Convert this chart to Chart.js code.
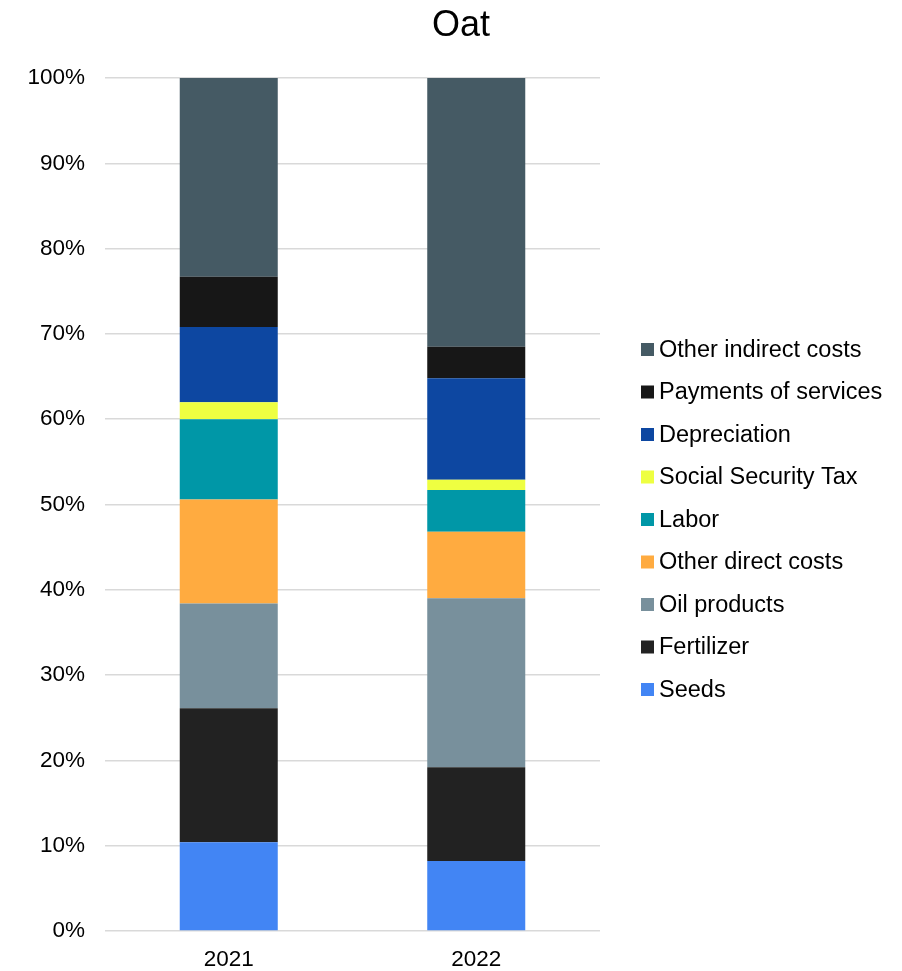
<!DOCTYPE html>
<html>
<head>
<meta charset="utf-8">
<title>Oat</title>
<script src="https://cdn.jsdelivr.net/npm/chart.js@4.4.1/dist/chart.umd.min.js"></script>
<style>
    html, body { margin: 0; padding: 0; background: #ffffff; }
    #wrap { width: 902px; height: 971px; }
</style>
</head>
<body>
<div id="wrap"><canvas id="oatChart" width="902" height="971"></canvas></div>
<script>
// Cost structure of oat per year, share of total (%)
const years = ['2021', '2022'];
const costNames = [
    'Seeds', 'Fertilizer', 'Oil products', 'Other direct costs', 'Labor',
    'Social Security Tax', 'Depreciation', 'Payments of services', 'Other indirect costs'
];
const seeds = [10.4, 8.2];
const fertilizer = [15.7, 11.0];
const oilProducts = [12.3, 19.8];
const otherDirect = [12.2, 7.8];
const labor = [9.4, 4.9];
const socialTax = [2.0, 1.2];
const depreciation = [8.8, 11.9];
const payments = [5.9, 3.7];
const otherIndirect = [23.3, 31.5];
const percentTicks = [0, 10, 20, 30, 40, 50, 60, 70, 80, 90, 100];

const costValues = [seeds, fertilizer, oilProducts, otherDirect, labor, socialTax, depreciation, payments, otherIndirect];
const costColors = ['#4285f4', '#222222', '#78909c', '#ffab40', '#0097a7', '#eeff41', '#0d47a1', '#171717', '#455a64'];

const FONT = '"Liberation Sans", Arial, sans-serif';
const LEFT_PAD = 20;

const datasets = costValues.map((values, i) => ({
    label: costNames[i],
    data: values,
    backgroundColor: costColors[i],
    borderWidth: 0,
    barPercentage: 0.396,
    categoryPercentage: 1.0
}));

// title centred over the whole canvas (the built-in one only spans the plot + axis)
const canvasTitle = {
    id: 'canvasTitle',
    afterDraw(chart) {
        const { ctx } = chart;
        ctx.save();
        ctx.font = '36px ' + FONT;
        ctx.fillStyle = '#000000';
        ctx.textAlign = 'center';
        ctx.textBaseline = 'middle';
        ctx.fillText('Oat', (chart.width + LEFT_PAD) / 2, 26);
        ctx.restore();
    }
};

// legend on the right, top item = top of the stack
const sideLegend = {
    id: 'sideLegend',
    afterDraw(chart) {
        const { ctx, chartArea } = chart;
        const items = chart.data.datasets.slice().reverse();
        const rowGap = 42.5;
        const boxSize = 13;
        const x = chartArea.right + 41;
        const mid = (chartArea.top + chartArea.bottom) / 2 + 15;
        const y0 = mid - (items.length - 1) * rowGap / 2;
        ctx.save();
        ctx.font = '23.5px ' + FONT;
        ctx.textBaseline = 'middle';
        ctx.textAlign = 'left';
        items.forEach((ds, i) => {
            const y = y0 + i * rowGap;
            ctx.fillStyle = ds.backgroundColor;
            ctx.fillRect(x, y - boxSize / 2, boxSize, boxSize);
            ctx.fillStyle = '#000000';
            ctx.fillText(ds.label, x + boxSize + 5, y + 1);
        });
        ctx.restore();
    }
};

const ctx = document.getElementById('oatChart').getContext('2d');

const oatChart = new Chart(ctx, {
    type: 'bar',
    data: {
        labels: years,
        datasets: datasets
    },
    options: {
        responsive: false,
        animation: false,
        layout: {
            padding: { left: LEFT_PAD, right: 302, top: 78, bottom: 0 }
        },
        scales: {
            x: {
                stacked: true,
                afterFit(scale) { scale.height = 40; },
                grid: { display: false, drawTicks: false },
                border: { display: false },
                ticks: {
                    color: '#000000',
                    padding: 15,
                    font: { family: FONT, size: 22.5 }
                }
            },
            y: {
                stacked: true,
                min: 0,
                max: 100,
                afterFit(scale) { scale.width = 85; },
                afterBuildTicks(scale) {
                    scale.ticks = percentTicks.map(v => ({ value: v }));
                },
                grid: {
                    color: '#d9d9d9',
                    lineWidth: 1.5,
                    drawTicks: false
                },
                border: { display: false },
                ticks: {
                    color: '#000000',
                    padding: 20,
                    font: { family: FONT, size: 22.5 },
                    callback: v => v + '%'
                }
            }
        },
        plugins: {
            legend: { display: false },
            tooltip: { enabled: false },
            title: { display: false }
        }
    },
    plugins: [canvasTitle, sideLegend]
});
</script>
</body>
</html>
